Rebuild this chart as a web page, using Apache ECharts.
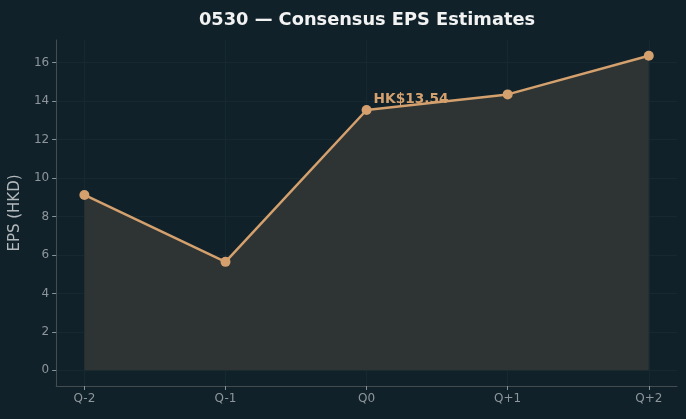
<!DOCTYPE html>
<html>
<head>
<meta charset="utf-8">
<script src="https://cdn.jsdelivr.net/npm/echarts@6/dist/echarts.min.js"></script>
<style>
  html, body { margin: 0; padding: 0; background: #10212a; }
  #chart { width: 686px; height: 419px; }
</style>
</head>
<body>
<div id="chart"></div>
<script>
// chart data
var categories = ['Q-2', 'Q-1', 'Q0', 'Q+1', 'Q+2'];
var epsValues = [9.12, 5.64, 13.54, 14.35, 16.36];
var yTicks = [0, 2, 4, 6, 8, 10, 12, 14, 16];
var highlightIndex = 2;

var chartDom = document.getElementById('chart');
var myChart = echarts.init(chartDom);

var points = epsValues.map(function (v, i) { return [i, v]; });
var xIdx = categories.map(function (c, i) { return i; });

var option = {
  backgroundColor: '#10212a',
  animation: false,
  title: {
    text: '0530 — Consensus EPS Estimates',
    left: 362,
    textAlign: 'center',
    top: 6,
    textStyle: {
      color: '#f2f2f2',
      fontFamily: 'DejaVu Sans',
      fontWeight: 'bold',
      fontSize: 17.8
    }
  },
  grid: {
    left: 56,
    top: 40,
    right: 9,
    bottom: 33,
    containLabel: false
  },
  xAxis: {
    type: 'value',
    min: -0.2,
    max: 4.2,
    axisLine: { show: true, onZero: false, lineStyle: { color: '#434c51', width: 1 } },
    axisTick: { show: true, customValues: xIdx, length: 4, lineStyle: { color: '#8a9298' } },
    axisLabel: {
      customValues: xIdx,
      color: '#8e969b',
      fontFamily: 'DejaVu Sans',
      fontSize: 12,
      margin: 7,
      formatter: function (v) { return categories[Math.round(v)]; }
    },
    splitLine: { show: true, lineStyle: { color: '#162830', width: 1 } }
  },
  yAxis: {
    type: 'value',
    min: -0.818,
    max: 17.18,
    name: 'EPS (HKD)',
    nameLocation: 'middle',
    nameGap: 27,
    nameTextStyle: { color: '#b4b9bc', fontFamily: 'DejaVu Sans', fontSize: 15 },
    axisLine: { show: true, onZero: false, lineStyle: { color: '#434c51', width: 1 } },
    axisTick: { show: true, customValues: yTicks, length: 4, lineStyle: { color: '#8a9298' } },
    axisLabel: {
      customValues: yTicks,
      color: '#8e969b',
      fontFamily: 'DejaVu Sans',
      fontSize: 12,
      margin: 7
    },
    splitLine: { show: true, lineStyle: { color: '#162830', width: 1 } }
  },
  series: [
    {
      type: 'line',
      data: points,
      symbol: 'circle',
      symbolSize: 10,
      lineStyle: { color: '#d4a06d', width: 2.5 },
      itemStyle: { color: '#d4a06d' },
      areaStyle: { color: '#2e3433', opacity: 1, origin: 0 },
      label: {
        show: true,
        formatter: function (p) {
          return p.dataIndex === highlightIndex ? 'HK$' + epsValues[highlightIndex].toFixed(2) : '';
        },
        position: [12, -13],
        color: '#d4a06d',
        fontFamily: 'DejaVu Sans',
        fontWeight: 'bold',
        fontSize: 13.7
      },
      z: 3
    }
  ]
};

option && myChart.setOption(option);
</script>
</body>
</html>
